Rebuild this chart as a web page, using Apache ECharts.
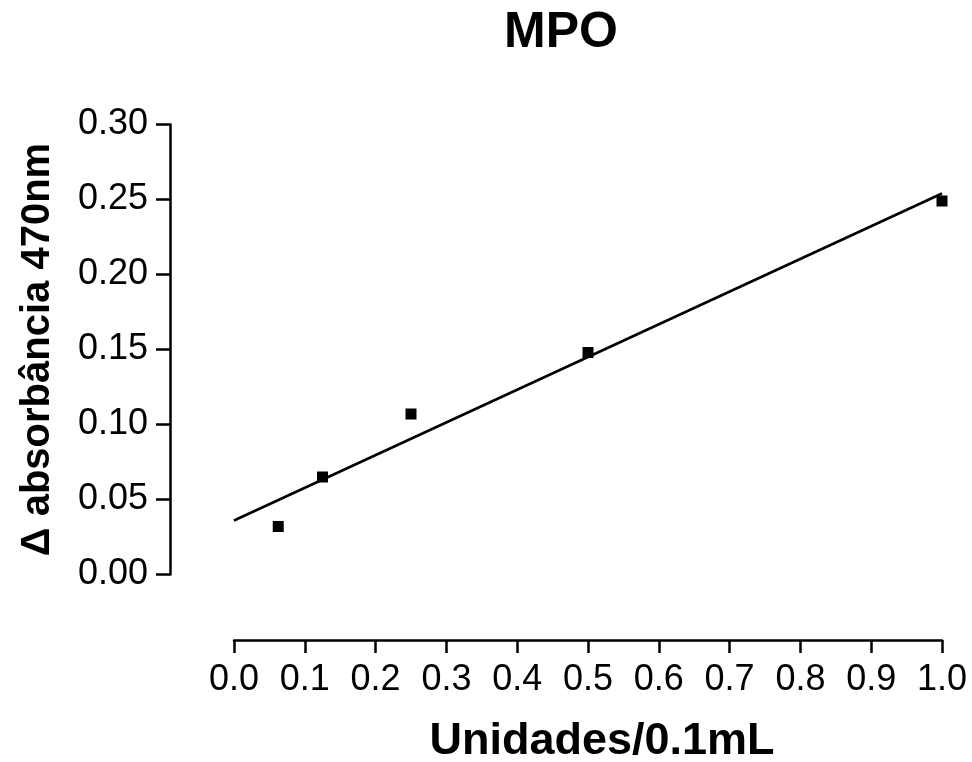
<!DOCTYPE html>
<html>
<head>
<meta charset="utf-8">
<script src="https://cdn.jsdelivr.net/npm/echarts@6/dist/echarts.min.js"></script>
<style>html,body{margin:0;padding:0;background:#fff;}#c{width:972px;height:762px;}</style>
</head>
<body>
<div id="c"></div>
<script>
const unitsX = [0.0625, 0.125, 0.25, 0.5, 1.0];
const absorbance = [0.032, 0.065, 0.107, 0.148, 0.249];
const fitX = [0, 1.0];
const fitY = [0.036, 0.254];
const xTicks = [0, 1.0, 0.1];
const yTicks = [0, 0.30, 0.05];

const FONT = "'Liberation Sans', Arial, sans-serif";
const chart = echarts.init(document.getElementById('c'), null, {renderer: 'canvas'});
chart.setOption({
  animation: false,
  backgroundColor: '#ffffff',
  title: {
    text: 'MPO', left: 556, top: 3, textAlign: 'center',
    textStyle: {fontFamily: FONT, fontSize: 50, fontWeight: 'bold', color: '#000'}
  },
  grid: {left: 234, right: 30, top: 124.5, bottom: 187.5, containLabel: false, outerBoundsMode: 'none'},
  xAxis: {
    type: 'value', min: xTicks[0], max: xTicks[1], interval: xTicks[2],
    offset: 65.5,
    name: 'Unidades/0.1mL', nameLocation: 'middle', nameGap: 79, nameMoveOverlap: false,
    nameTextStyle: {fontFamily: FONT, fontSize: 45, fontWeight: 'bold', color: '#000', padding: [0, 0, 0, 28]},
    axisLine: {show: true, onZero: false, lineStyle: {color: '#000', width: 2.5}},
    axisTick: {show: true, length: 13, lineStyle: {color: '#000', width: 2.5}},
    axisLabel: {fontFamily: FONT, fontSize: 36, color: '#000', margin: 22, formatter: v => v.toFixed(1)},
    splitLine: {show: false}
  },
  yAxis: {
    type: 'value', min: yTicks[0], max: yTicks[1], interval: yTicks[2],
    offset: 64,
    name: 'Δ absorbância 470nm', nameLocation: 'middle', nameGap: 112, nameMoveOverlap: false,
    nameTextStyle: {fontFamily: FONT, fontSize: 40, fontWeight: 'bold', color: '#000'},
    axisLine: {show: true, onZero: false, lineStyle: {color: '#000', width: 2.5}},
    axisTick: {show: true, length: 14, lineStyle: {color: '#000', width: 2.5}},
    axisLabel: {fontFamily: FONT, fontSize: 36, color: '#000', margin: 22, formatter: v => v.toFixed(2)},
    splitLine: {show: false}
  },
  series: [
    {
      type: 'line', data: fitX.map((x, i) => [x, fitY[i]]),
      showSymbol: false, symbol: 'none', clip: false,
      lineStyle: {color: '#000', width: 2.6}
    },
    {
      type: 'scatter', data: unitsX.map((x, i) => [x, absorbance[i]]),
      symbol: 'rect', symbolSize: 11, clip: false,
      itemStyle: {color: '#000', opacity: 1}
    }
  ]
});
</script>
</body>
</html>
